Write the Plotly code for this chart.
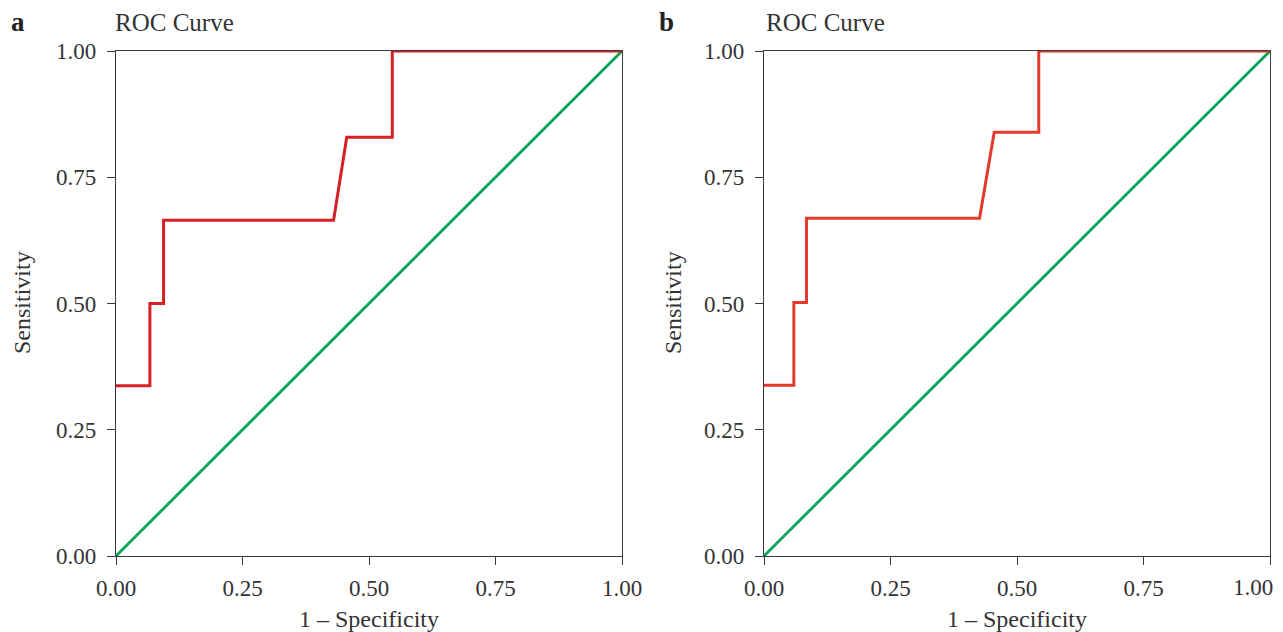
import plotly.graph_objects as go

# ---- data ----
a_fpr = [0.0, 0.067, 0.067, 0.094, 0.094, 0.430, 0.456, 0.546, 0.546, 1.0]
a_tpr = [0.337, 0.337, 0.500, 0.500, 0.665, 0.665, 0.829, 0.829, 1.0, 1.0]
b_fpr = [0.0, 0.059, 0.059, 0.084, 0.084, 0.426, 0.455, 0.543, 0.543, 1.0]
b_tpr = [0.338, 0.338, 0.502, 0.502, 0.669, 0.669, 0.839, 0.839, 1.0, 1.0]
ref_x = [0.0, 1.0]
ref_y = [0.0, 1.0]
tick_vals = [0, 0.25, 0.5, 0.75, 1.0]
tick_text = ["0.00", "0.25", "0.50", "0.75", "1.00"]
panel_labels = ["a", "b"]
title_text = "ROC Curve"
x_title = "1 \u2013 Specificity"
y_title = "Sensitivity"

# the page body adds an 8px offset; work in screen pixels and convert
OFF = 8
W, H = 1283 - OFF, 632 - OFF
FONT = "Liberation Serif"
RED_A = "#d71f26"
RED_B = "#e23a2c"
GREEN = "#00a651"
TXT = "#333333"


def px(x):
    return (x - OFF) / W


def py(y):
    return 1 - (y - OFF) / H


fig = go.Figure()

fig.add_trace(go.Scatter(x=ref_x, y=ref_y, mode="lines", line=dict(color=GREEN, width=2.8),
                         xaxis="x", yaxis="y", showlegend=False))
fig.add_trace(go.Scatter(x=a_fpr, y=a_tpr, mode="lines", line=dict(color=RED_A, width=3),
                         xaxis="x", yaxis="y", showlegend=False))
fig.add_trace(go.Scatter(x=ref_x, y=ref_y, mode="lines", line=dict(color=GREEN, width=2.8),
                         xaxis="x2", yaxis="y2", showlegend=False))
fig.add_trace(go.Scatter(x=b_fpr, y=b_tpr, mode="lines", line=dict(color=RED_B, width=3),
                         xaxis="x2", yaxis="y2", showlegend=False))

ydom = [py(556), py(51)]
xdom_a = [px(116), px(622)]
xdom_b = [px(764), px(1270)]

axis_common = dict(range=[0, 1], tickmode="array", tickvals=tick_vals,
                   showgrid=False, zeroline=False, showline=True, mirror=True,
                   linecolor="#3a3a3a", linewidth=1.2, ticks="outside", ticklen=8,
                   tickcolor="#3a3a3a", tickwidth=1.2, automargin=False,
                   tickfont=dict(family=FONT, size=23, color=TXT))

fig.update_layout(
    width=W, height=H,
    margin=dict(l=0, r=0, t=0, b=0, pad=0, autoexpand=False),
    showlegend=False,
    paper_bgcolor="white", plot_bgcolor="white",
    xaxis=dict(domain=xdom_a, anchor="y", ticklabelstandoff=3, ticktext=tick_text, **axis_common),
    yaxis=dict(domain=ydom, anchor="x", ticklabelstandoff=6, ticktext=tick_text, **axis_common),
    xaxis2=dict(domain=xdom_b, anchor="y2", ticklabelstandoff=3,
                ticktext=tick_text[:-1] + [""], **axis_common),
    yaxis2=dict(domain=ydom, anchor="x2", ticklabelstandoff=6, ticktext=tick_text, **axis_common),
)

ann = []
for i, (lx, tx, cx, sx) in enumerate([(18, 114, 369, 22), (666, 765, 1017, 673)]):
    ann.append(dict(text="<b>" + panel_labels[i] + "</b>", x=px(lx), y=py(22), xref="paper", yref="paper",
                    showarrow=False, xanchor="center", yanchor="middle", borderpad=0,
                    font=dict(family=FONT, size=27, color="#222")))
    ann.append(dict(text=title_text, x=px(tx), y=py(22), xref="paper", yref="paper",
                    showarrow=False, xanchor="left", yanchor="middle", borderpad=0,
                    font=dict(family=FONT, size=25, color=TXT)))
    ann.append(dict(text=x_title, x=px(cx), y=py(619), xref="paper", yref="paper",
                    showarrow=False, xanchor="center", yanchor="middle", borderpad=0,
                    font=dict(family=FONT, size=24, color=TXT)))
    ann.append(dict(text=y_title, x=px(sx), y=py(303), xref="paper", yref="paper",
                    showarrow=False, xanchor="center", yanchor="middle", textangle=-90, borderpad=0,
                    font=dict(family=FONT, size=24, color=TXT)))
# last x tick label of panel b sits slightly inside the page edge
ann.append(dict(text=tick_text[-1], x=px(1274), y=py(587), xref="paper", yref="paper",
                showarrow=False, xanchor="right", yanchor="middle", borderpad=0,
                font=dict(family=FONT, size=23, color=TXT)))
fig.update_layout(annotations=ann)

fig.write_html("out.html")
